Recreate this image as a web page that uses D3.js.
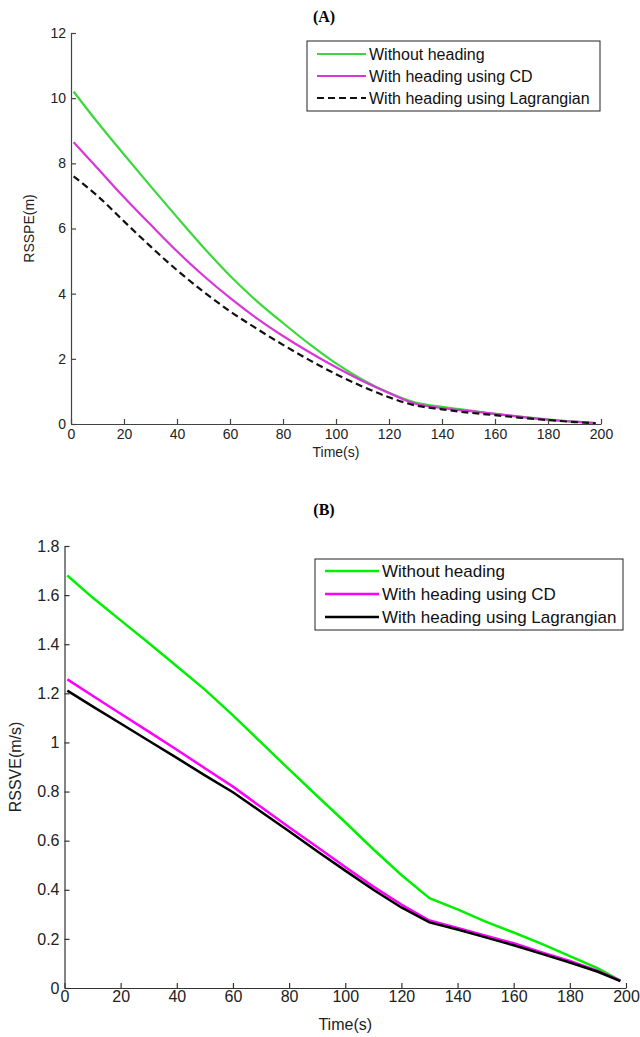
<!DOCTYPE html>
<html>
<head>
<meta charset="utf-8">
<script src="https://cdn.jsdelivr.net/npm/d3@7/dist/d3.min.js"></script>
<style>
  body { margin: 0; background: #fff; }
  svg { display: block; }
</style>
</head>
<body>
<svg id="chart" width="640" height="1037"></svg>
<script>
// sample times (s), shared by both panels
const time = [1, 10, 20, 30, 40, 50, 60, 70, 80, 90, 100, 110, 120, 130, 140, 150, 160, 170, 180, 190, 198]

// (A) RSSPE (m)
const posNoHeading = [10.2, 9.26, 8.27, 7.3, 6.35, 5.42, 4.55, 3.78, 3.1, 2.45, 1.86, 1.36, 0.96, 0.66, 0.53, 0.42, 0.31, 0.22, 0.14, 0.07, 0.03]
const posCD = [8.65, 7.85, 6.96, 6.12, 5.3, 4.55, 3.87, 3.25, 2.7, 2.2, 1.74, 1.32, 0.95, 0.62, 0.49, 0.4, 0.31, 0.22, 0.13, 0.07, 0.03]
const posLagrangian = [7.6, 7.0, 6.22, 5.45, 4.72, 4.06, 3.46, 2.93, 2.43, 1.96, 1.53, 1.15, 0.82, 0.57, 0.45, 0.35, 0.27, 0.19, 0.12, 0.06, 0.02]

// (B) RSSVE (m/s)
const velNoHeading = [1.68, 1.59, 1.497, 1.405, 1.31, 1.215, 1.11, 1.0, 0.89, 0.782, 0.675, 0.565, 0.46, 0.366, 0.32, 0.27, 0.226, 0.18, 0.13, 0.08, 0.03]
const velCD = [1.257, 1.19, 1.117, 1.044, 0.97, 0.895, 0.82, 0.737, 0.655, 0.574, 0.493, 0.413, 0.34, 0.275, 0.245, 0.213, 0.182, 0.145, 0.11, 0.07, 0.03]
const velLagrangian = [1.211, 1.147, 1.077, 1.007, 0.937, 0.866, 0.797, 0.718, 0.638, 0.557, 0.478, 0.4, 0.328, 0.267, 0.238, 0.206, 0.174, 0.139, 0.104, 0.066, 0.028]

const xTicks = [0, 20, 40, 60, 80, 100, 120, 140, 160, 180, 200]
const yTicksA = [0, 2, 4, 6, 8, 10, 12]
const yTicksB = [0, 0.2, 0.4, 0.6, 0.8, 1, 1.2, 1.4, 1.6, 1.8]
const legendNames = ['Without heading', 'With heading using CD', 'With heading using Lagrangian']

const svg = d3.select('#chart')
const tickFont = '"Liberation Sans Narrow", "Liberation Sans", Arial, sans-serif'

function drawPanel(cfg) {
    const g = svg.append('g')
    const x = d3.scaleLinear().domain([0, 200]).range([cfg.left, cfg.right])
    const y = d3.scaleLinear().domain(cfg.yDomain).range([cfg.bottom, cfg.top])

    // title
    g.append('text')
        .attr('x', 324)
        .attr('y', cfg.titleY)
        .attr('text-anchor', 'middle')
        .style('font-family', '"Liberation Serif", "Times New Roman", serif')
        .style('font-weight', 'bold')
        .style('font-size', '16px')
        .text(cfg.title)

    // series
    const line = d3.line()
        .x((d) => x(d[0]))
        .y((d) => y(d[1]))
        .curve(cfg.curve)

    cfg.series.forEach((s) => {
        g.append('path')
            .datum(time.map((t, i) => [t, s.values[i]]))
            .attr('fill', 'none')
            .attr('stroke', s.color)
            .attr('stroke-width', cfg.lineWidth)
            .attr('stroke-dasharray', s.dash || null)
            .attr('d', line)
    })

    // axes, ticks pointing inward
    const xAxis = d3.axisBottom(x).tickValues(xTicks).tickSize(-5).tickSizeOuter(0).tickPadding(cfg.xPad)
    const yAxis = d3.axisLeft(y).tickValues(cfg.yTicks).tickSize(-5).tickSizeOuter(0).tickPadding(5)
        .tickFormat(d3.format('~g'))

    const xg = g.append('g').attr('transform', `translate(0,${cfg.bottom})`).call(xAxis)
    const yg = g.append('g').attr('transform', `translate(${cfg.left},0)`).call(yAxis)
    ;[xg, yg].forEach((a) => {
        a.selectAll('path, line').attr('stroke', cfg.axisColor).attr('stroke-width', 1.2)
        a.selectAll('text')
            .attr('fill', '#222')
            .style('font-family', tickFont)
            .style('font-size', cfg.fontSize + 'px')
    })

    // axis labels
    g.append('text')
        .attr('x', (cfg.left + cfg.right) / 2)
        .attr('y', cfg.xLabelY)
        .attr('text-anchor', 'middle')
        .attr('fill', '#222')
        .style('font-family', tickFont)
        .style('font-size', cfg.fontSize + 'px')
        .text('Time(s)')

    g.append('text')
        .attr('transform', `translate(${cfg.yLabelX},${(cfg.top + cfg.bottom) / 2}) rotate(-90)`)
        .attr('text-anchor', 'middle')
        .attr('fill', '#222')
        .style('font-family', tickFont)
        .style('font-size', cfg.fontSize + 'px')
        .text(cfg.yLabel)

    // legend
    const lg = cfg.legend
    g.append('rect')
        .attr('x', lg.x0)
        .attr('y', lg.y0)
        .attr('width', lg.x1 - lg.x0)
        .attr('height', lg.y1 - lg.y0)
        .attr('fill', '#fff')
        .attr('stroke', '#222')
        .attr('stroke-width', 1)

    cfg.series.forEach((s, i) => {
        const ry = lg.rows[i]
        g.append('line')
            .attr('x1', lg.lineX0)
            .attr('x2', lg.lineX1)
            .attr('y1', ry)
            .attr('y2', ry)
            .attr('stroke', s.color)
            .attr('stroke-width', cfg.lineWidth)
            .attr('stroke-dasharray', s.dash || null)
        g.append('text')
            .attr('x', lg.textX)
            .attr('y', ry)
            .attr('dy', '0.35em')
            .attr('fill', '#111')
            .style('font-family', tickFont)
            .style('font-size', lg.fontSize + 'px')
            .text(legendNames[i])
    })
}

drawPanel({
    title: '(A)',
    titleY: 22,
    left: 71, right: 601, top: 33, bottom: 424,
    yDomain: [0, 12],
    yTicks: yTicksA,
    yLabel: 'RSSPE(m)',
    yLabelX: 34,
    xLabelY: 457,
    xPad: 5,
    fontSize: 14,
    axisColor: '#444',
    lineWidth: 2.2,
    curve: d3.curveMonotoneX,
    series: [
        { values: posNoHeading, color: '#3ad93a' },
        { values: posCD, color: '#d936d9' },
        { values: posLagrangian, color: '#111', dash: '7,4' },
    ],
    legend: {
        x0: 307, x1: 600, y0: 41, y1: 111,
        rows: [54, 76, 98],
        lineX0: 317, lineX1: 366, textX: 369,
        fontSize: 16,
    },
})

drawPanel({
    title: '(B)',
    titleY: 515,
    left: 64.5, right: 626, top: 546, bottom: 988,
    yDomain: [0, 1.8],
    yTicks: yTicksB,
    yLabel: 'RSSVE(m/s)',
    yLabelX: 21,
    xLabelY: 1030,
    xPad: 3,
    fontSize: 16,
    axisColor: '#333',
    lineWidth: 2.5,
    curve: d3.curveLinear,
    series: [
        { values: velNoHeading, color: '#00f000' },
        { values: velCD, color: '#ff00ff' },
        { values: velLagrangian, color: '#000' },
    ],
    legend: {
        x0: 315, x1: 623, y0: 559, y1: 630,
        rows: [571, 594, 617],
        lineX0: 325, lineX1: 379, textX: 382,
        fontSize: 17,
    },
})
</script>
</body>
</html>
